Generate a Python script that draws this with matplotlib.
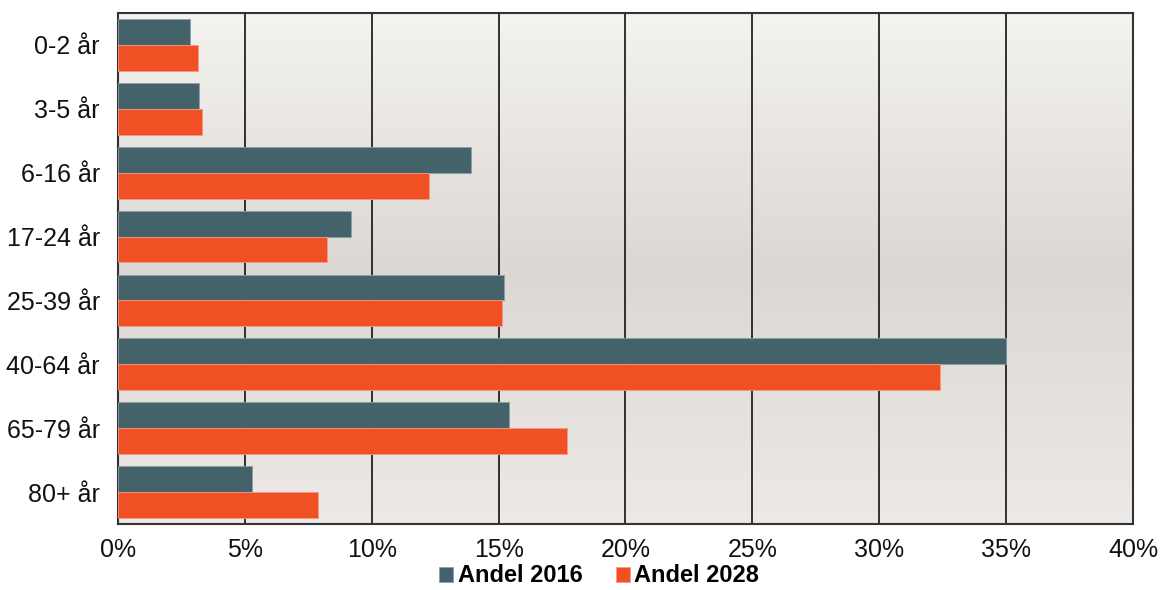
import numpy as np
import matplotlib.pyplot as plt
from matplotlib.colors import LinearSegmentedColormap

plt.rcParams['font.family'] = ['Liberation Sans', 'DejaVu Sans']

categories = ["0-2 år", "3-5 år", "6-16 år", "17-24 år", "25-39 år", "40-64 år", "65-79 år", "80+ år"]
andel_2016 = [2.85, 3.2, 13.9, 9.2, 15.2, 35.0, 15.4, 5.3]
andel_2028 = [3.15, 3.3, 12.25, 8.25, 15.15, 32.4, 17.7, 7.9]
xticks = [0, 5, 10, 15, 20, 25, 30, 35, 40]

c2016 = "#44626a"
c2028 = "#f15025"

fig = plt.figure(figsize=(11.6, 5.9), dpi=100)
ax = fig.add_axes([0.1017, 0.1119, 0.875, 0.8661])

# gradient background
bg = LinearSegmentedColormap.from_list("bg", ["#f4f3f0", "#dcd7d2", "#ece9e6"])
grad = np.linspace(0, 1, 256).reshape(-1, 1)
ax.imshow(grad, cmap=bg, aspect="auto", extent=[0, 1, 0, 1], transform=ax.transAxes, zorder=0)

y = np.arange(len(categories))
h = 0.405
ax.barh(y - h / 2, andel_2016, height=h, color=c2016, edgecolor="#8aa0a5", linewidth=0.6, zorder=3, label="Andel 2016")
ax.barh(y + h / 2, andel_2028, height=h, color=c2028, edgecolor="#f59a80", linewidth=0.6, zorder=3, label="Andel 2028")

ax.set_xlim(0, 40)
ax.set_ylim(len(categories) - 0.5, -0.5)
ax.set_xticks(xticks)
ax.set_xticklabels([f"{t}%" for t in xticks])
ax.set_yticks(y)
ax.set_yticklabels(categories)
ax.tick_params(axis="both", length=0, labelsize=18, colors="#111111")
ax.tick_params(axis="x", pad=10)
ax.tick_params(axis="y", pad=13)
ax.xaxis.grid(True, color="#222222", linewidth=1.3, zorder=1)
ax.set_axisbelow(True)
for s in ax.spines.values():
    s.set_color("#333333")
    s.set_linewidth(1.5)

leg = fig.legend(loc="center", bbox_to_anchor=(0.5165, 0.024), ncol=2, frameon=False,
                 prop={"weight": "bold", "size": 17}, handlelength=0.6, handleheight=0.6,
                 handletextpad=0.2, columnspacing=1.4, borderpad=0)

fig.savefig("out.png", dpi=100)
